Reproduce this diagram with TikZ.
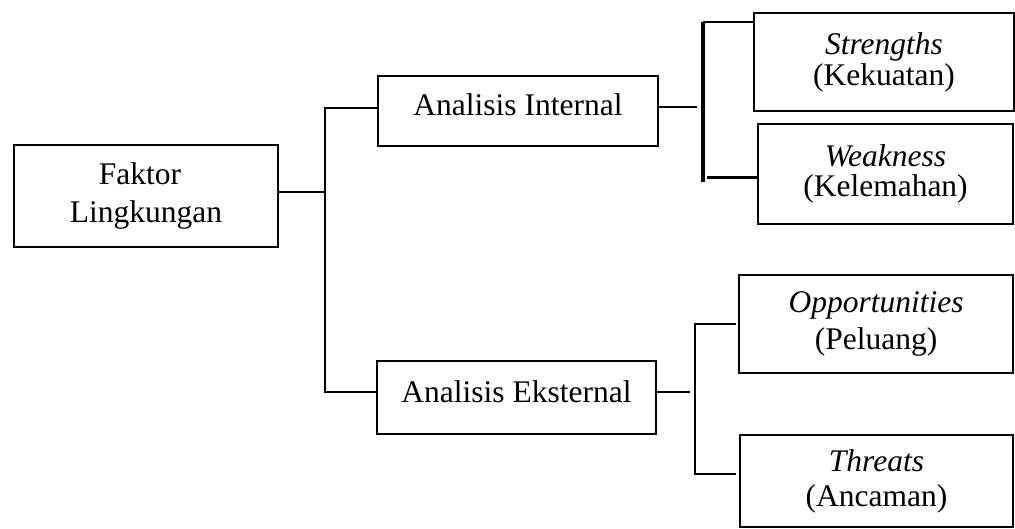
\documentclass[tikz,border=0pt]{standalone}
\usepackage{fontspec}
\setmainfont{Liberation Serif}
\begin{document}
\begin{tikzpicture}[x=1pt,y=-1pt,
  box/.style={draw=black,line width=1.1pt,inner sep=0pt,outer sep=0pt,align=center},
  conn/.style={draw=black,line width=1.6pt},
  thickconn/.style={draw=black,line width=4pt},
  medconn/.style={draw=black,line width=3pt}]
\useasboundingbox[fill=white] (0,0) rectangle (1015,528);
% boxes
\node[box,minimum width=264pt,minimum height=102pt,font={\fontsize{31.5}{38}\selectfont}] (F) at (146,196) {Faktor\hspace*{12pt}\\Lingkungan};
\node[box,minimum width=280pt,minimum height=70pt,text depth=12pt,font={\fontsize{31.5}{38}\selectfont}] (AI) at (518,111) {Analisis Internal};
\node[box,minimum width=279pt,minimum height=73pt,text depth=12pt,font={\fontsize{31.5}{38}\selectfont}] (AE) at (516.5,397.5) {Analisis Eksternal};
\node[box,minimum width=260pt,minimum height=98pt,font={\fontsize{31.5}{31}\selectfont}] (S) at (884,62) {\textit{Strengths}\\(Kekuatan)};
\node[box,minimum width=255pt,minimum height=100pt,font={\fontsize{31.5}{30}\selectfont}] (W) at (885.5,174) {\textit{Weakness}\\(Kelemahan)};
\node[box,minimum width=274pt,minimum height=98pt,font={\fontsize{31.5}{37}\selectfont}] (O) at (876,324) {\textit{Opportunities}\\(Peluang)};
\node[box,minimum width=273pt,minimum height=92pt,font={\fontsize{31.5}{35}\selectfont}] (T) at (876.5,481) {\textit{Threats}\\(Ancaman)};
% main trunk
\coordinate (tr) at (325,192);
\draw[conn] ([yshift=4pt]F.east) -- (tr);
\draw[conn] ([yshift=3pt]AI.west) -- ++(-53,0) |- ([yshift=5.5pt]AE.west);
% internal branch
\coordinate (ia) at (703,22);
\coordinate (ib) at (703,182);
\coordinate (ic) at (707,177);
\draw[conn] ([yshift=4pt]AI.east) -- ++(39,0);
\draw[thickconn] (ia) -- (ib);
\draw[conn] (ia) -- ([yshift=-9pt]S.north west);
\draw[medconn] (ic) -- ([yshift=-3pt]W.west);
% external branch
\draw[conn] ([yshift=5.5pt]AE.east) -- ++(34,0);
\draw[conn] ([xshift=-3pt]O.west) -- ++(-41,0) |- ([xshift=-4pt,yshift=7pt]T.west);
\end{tikzpicture}
\end{document}
